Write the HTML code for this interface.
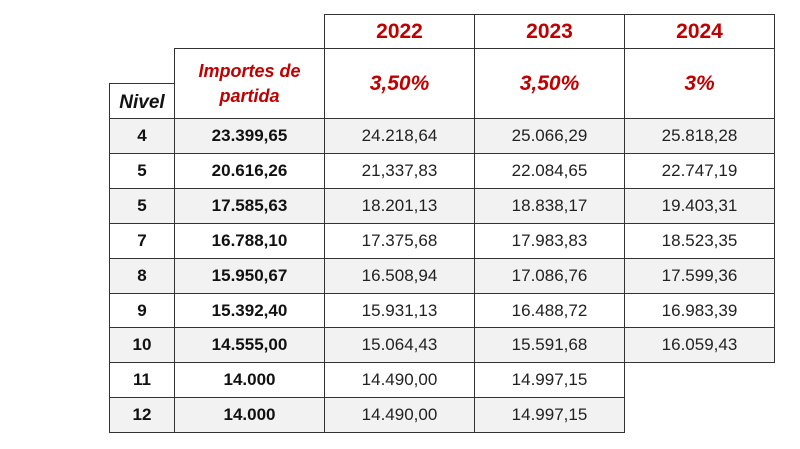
<!DOCTYPE html><html><head><style>
body{margin:0;width:800px;height:449px;background:#fff;position:relative;overflow:hidden;font-family:"Liberation Sans",sans-serif}
.c{position:absolute;box-sizing:border-box;border:1px solid #333;display:flex;align-items:center;justify-content:center;text-align:center;font-size:17px;color:#222}
.b{font-weight:bold;color:#111}
.r{color:#c00000;font-weight:bold}
.s{background:#f2f2f2}
</style></head><body>
<div class="c r" style="left:324px;top:14px;width:151px;height:35px;font-size:21px">2022</div>
<div class="c r" style="left:474px;top:14px;width:151px;height:35px;font-size:21px">2023</div>
<div class="c r" style="left:624px;top:14px;width:151px;height:35px;font-size:21px">2024</div>
<div class="c r" style="left:174px;top:48px;width:151px;height:71px;font-style:italic;font-size:18px;line-height:25px">Importes de<br>partida</div>
<div class="c r" style="left:324px;top:48px;width:151px;height:71px;font-style:italic;font-size:21px">3,50%</div>
<div class="c r" style="left:474px;top:48px;width:151px;height:71px;font-style:italic;font-size:21px">3,50%</div>
<div class="c r" style="left:624px;top:48px;width:151px;height:71px;font-style:italic;font-size:21px">3%</div>
<div class="c b" style="left:109px;top:83px;width:66px;height:36px;font-style:italic;font-size:19px;align-items:flex-end;padding-bottom:4px">Nivel</div>
<div id="rows"></div>
<script>
var d=[["4","23.399,65","24.218,64","25.066,29","25.818,28"],["5","20.616,26","21,337,83","22.084,65","22.747,19"],["5","17.585,63","18.201,13","18.838,17","19.403,31"],["7","16.788,10","17.375,68","17.983,83","18.523,35"],["8","15.950,67","16.508,94","17.086,76","17.599,36"],["9","15.392,40","15.931,13","16.488,72","16.983,39"],["10","14.555,00","15.064,43","15.591,68","16.059,43"],["11","14.000","14.490,00","14.997,15",null],["12","14.000","14.490,00","14.997,15",null]];
var xs=[109,174,324,474,624],ws=[66,151,151,151,151],h="";
d.forEach(function(r,i){var y=Math.round(118+i*34.9),y2=Math.round(118+(i+1)*34.9);r.forEach(function(v,j){if(v===null)return;h+='<div class="c'+(j<2?' b':'')+(i%2==0?' s':'')+'" style="left:'+xs[j]+'px;top:'+y+'px;width:'+ws[j]+'px;height:'+(y2-y+1)+'px">'+v+'</div>';});});
document.getElementById("rows").innerHTML=h;
</script>
</body></html>
